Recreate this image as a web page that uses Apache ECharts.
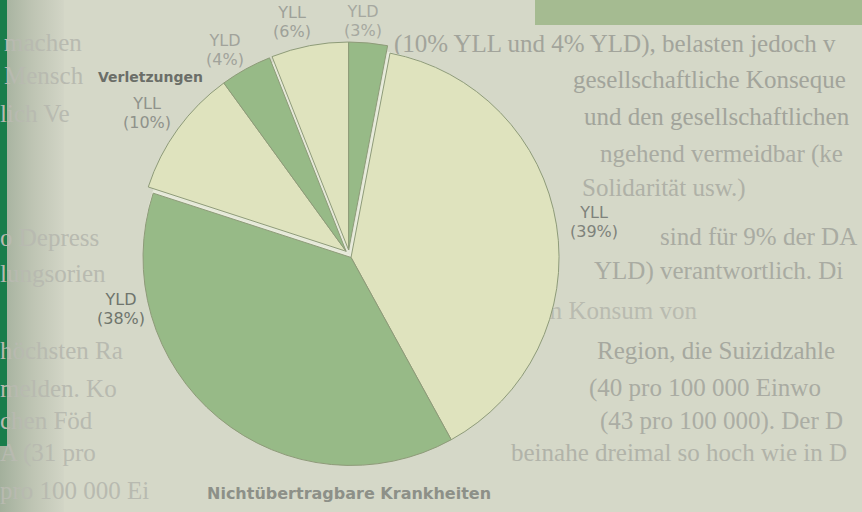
<!DOCTYPE html>
<html><head><meta charset="utf-8">
<script src="https://cdn.jsdelivr.net/npm/echarts@6/dist/echarts.min.js"></script>
<style>html,body{margin:0;padding:0;background:#d5d8c8;}#c{width:862px;height:512px;}</style>
</head><body><div id="c"></div>
<script>
// ---- data ----
const sliceNames  = ['YLL', 'YLD', 'YLL', 'YLD', 'YLL', 'YLD'];
const sliceValues = [39, 38, 10, 4, 6, 3];
const sliceGroup  = [0, 0, 1, 1, 2, 2];
const groupLabels = ['Nichtübertragbare Krankheiten', 'Verletzungen', ''];

// ---- styles / positions ----
const sliceColors = ['#dfe3be', '#97ba87', '#dfe3be', '#97ba87', '#dfe3be', '#97ba87'];
const labelColors = ['#7e827b', '#6f756d', '#8f928b', '#a1a39b', '#9ea199', '#a6a8a0'];
const labelPos = [[594, 222], [121, 309], [147, 113], [225, 50], [292, 22], [363, 21]];
const groupLabelStyle = [
  {x: 207, y: 493, align: 'left', size: 16, color: '#8d9088'},
  {x: 203, y: 77, align: 'right', size: 14, color: '#6b6e68'},
  null
];
const CX = 349, CY = 254, R = 208, GAP = 4;

const bodyLinesRight = [
  [394, 43, '(10% YLL und 4% YLD), belasten jedoch v', '#a2a49b'],
  [573, 79, 'gesellschaftliche Konseque', '#a2a49b'],
  [584, 116, 'und den gesellschaftlichen', '#a2a49b'],
  [600, 153, 'ngehend vermeidbar (ke', '#a9aba2'],
  [582, 187, 'Solidarität usw.)', '#afb1a7'],
  [660, 236, 'sind für 9% der DA', '#a9aba2'],
  [594, 270, 'YLD) verantwortlich. Di', '#a9aba2'],
  [420, 310, 'zwischen dem Konsum von', '#b9bbb0'],
  [597, 350, 'Region, die Suizidzahle', '#a6a89f'],
  [589, 387, '(40 pro 100 000 Einwo', '#a9aba2'],
  [600, 420, '(43 pro 100 000). Der D', '#abada4'],
  [511, 452, 'beinahe dreimal so hoch wie in D', '#b1b3a9']
];
const bodyLinesLeft = [
  [4, 42, 'machen'], [4, 75, 'Mensch'], [0, 113, 'lich Ve'],
  [0, 237, 'o Depress'], [0, 273, 'lungsorien'], [0, 350, 'höchsten Ra'],
  [0, 388, 'melden. Ko'], [0, 420, 'chen Föd'], [0, 452, 'A (31 pro'],
  [0, 490, 'pro 100 000 Ei']
];

const chart = echarts.init(document.getElementById('c'), null, {renderer: 'svg', width: 862, height: 512});
const total = sliceValues.reduce((a, b) => a + b, 0);
const rot = 360 * sliceValues[sliceValues.length - 1] / total;

const groups = [];
sliceGroup.forEach((g, i) => { (groups[g] = groups[g] || []).push(i); });

const series = [{
  type: 'pie', center: [CX, CY], radius: R - 2, startAngle: 90 - rot, clockwise: true,
  silent: true, animation: false, label: {show: false}, labelLine: {show: false}, z: 1,
  data: sliceValues.map((v, i) => ({name: sliceNames[i], value: v, itemStyle: {color: '#e8ebdc', borderWidth: 0}}))
}];

let acc = rot;
groups.forEach((idxs) => {
  const sum = idxs.reduce((s, i) => s + sliceValues[i], 0);
  const a1 = acc, a2 = acc + 360 * sum / total;
  acc = a2;
  const b = (a1 + a2) / 2 * Math.PI / 180;
  series.push({
    type: 'pie', center: [CX + GAP * Math.sin(b), CY - GAP * Math.cos(b)], radius: R,
    startAngle: 90 - a1, endAngle: 90 - a2, clockwise: true, avoidLabelOverlap: false,
    silent: true, animation: false, z: 2,
    label: {show: true, position: 'inside', fontFamily: 'DejaVu Sans', fontSize: 16, lineHeight: 19, align: 'center',
      formatter: p => p.name + '\n(' + p.value + '%)'},
    labelLine: {show: false},
    labelLayout: p => { const gi = idxs[p.dataIndex]; return {x: labelPos[gi][0], y: labelPos[gi][1], align: 'center', verticalAlign: 'middle'}; },
    data: idxs.map(i => ({name: sliceNames[i], value: sliceValues[i],
      itemStyle: {color: sliceColors[i], borderColor: '#8e9b79', borderWidth: 1},
      label: {color: labelColors[i]}}))
  });
});

const graphic = [
  {type: 'rect', shape: {x: 0, y: 0, width: 64, height: 512},
    style: {fill: new echarts.graphic.LinearGradient(0, 0, 1, 0, [{offset: 0, color: '#a3b09c'}, {offset: 0.5, color: '#bec4b3'}, {offset: 1, color: '#d2d5c6'}])}},
  {type: 'rect', shape: {x: 0, y: 0, width: 7, height: 446}, style: {fill: '#197d4b'}},
  {type: 'rect', shape: {x: 535, y: 0, width: 327, height: 25}, style: {fill: '#a5bb91'}}
];
bodyLinesRight.forEach(l => graphic.push({type: 'text', x: l[0], y: l[1],
  style: {text: l[2], fill: l[3], font: '25px "Liberation Serif"', textVerticalAlign: 'middle'}}));
bodyLinesLeft.forEach(l => graphic.push({type: 'text', x: l[0], y: l[1],
  style: {text: l[2], fill: '#b8bab0', font: '25px "Liberation Serif"', textVerticalAlign: 'middle'}}));
groupLabels.forEach((t, g) => {
  const s = groupLabelStyle[g];
  if (!t || !s) return;
  graphic.push({type: 'text', x: s.x, y: s.y,
    style: {text: t, fill: s.color, font: 'bold ' + s.size + 'px "DejaVu Sans"', textAlign: s.align, textVerticalAlign: 'middle'}});
});

chart.setOption({backgroundColor: '#d5d8c8', animation: false, graphic: graphic, series: series});
</script></body></html>
